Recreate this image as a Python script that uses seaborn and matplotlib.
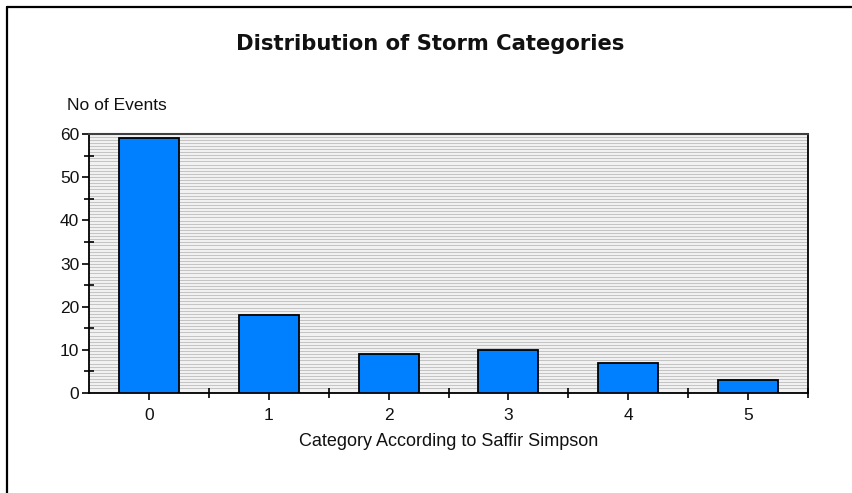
import numpy as np
import pandas as pd
import seaborn as sns
import matplotlib.pyplot as plt
from matplotlib.ticker import MultipleLocator, FixedLocator
from matplotlib.lines import Line2D

# Datos
categorias = ['0', '1', '2', '3', '4', '5']
eventos = [59, 18, 9, 10, 7, 3]

df = pd.DataFrame({'categoria': categorias, 'eventos': eventos})

sns.set_style('ticks')
plt.rcParams['font.family'] = ['Liberation Sans', 'DejaVu Sans']

fig = plt.figure(figsize=(8.52, 4.93), dpi=100)
ax = fig.add_axes([0.1045, 0.2028, 0.8439, 0.5254])
ax.set_facecolor('#f2f2f2')

# fondo rayado
for yy in np.arange(0.35, 60, 0.72):
    ax.axhline(yy, color='#c4c4c4', lw=0.75, zorder=0)

sns.barplot(data=df, x='categoria', y='eventos', color='#0080ff', width=0.5,
            edgecolor='black', linewidth=1.3, saturation=1, ax=ax, zorder=3)

ax.set_xlim(-0.5, 5.5)
ax.set_ylim(0, 60)
ax.yaxis.set_major_locator(MultipleLocator(10))
ax.yaxis.set_minor_locator(MultipleLocator(5))
ax.xaxis.set_minor_locator(FixedLocator(np.arange(0.5, 6, 1)))
ax.tick_params(axis='both', which='major', direction='out', length=5, width=1.2,
               color='black', labelsize=12.5, pad=2, labelcolor='#111111')
ax.tick_params(axis='x', which='major', pad=6)
ax.tick_params(axis='both', which='minor', direction='inout', length=7, width=1.2,
               color='black')

for s in ['left', 'bottom', 'right']:
    ax.spines[s].set_color('black')
    ax.spines[s].set_linewidth(1.3)
ax.spines['top'].set_color('#404040')
ax.spines['top'].set_linewidth(1.5)

ax.set_xlabel('Category According to Saffir Simpson', fontsize=13, labelpad=7,
              color='#111111')
ax.set_ylabel('')
fig.text(0.079, 0.785, 'No of Events', fontsize=12.5, ha='left', va='center',
         color='#111111')
fig.text(0.505, 0.91, 'Distribution of Storm Categories', fontsize=15.2,
         fontweight='bold', ha='center', va='center', family=['DejaVu Sans'],
         color='#111111')

# marco de la ventana
fig.add_artist(Line2D([0.008, 1.0], [0.986, 0.986], color='black', lw=1.6))
fig.add_artist(Line2D([0.008, 0.008], [0.0, 0.986], color='black', lw=1.6))

fig.savefig('out.png', dpi=100)
